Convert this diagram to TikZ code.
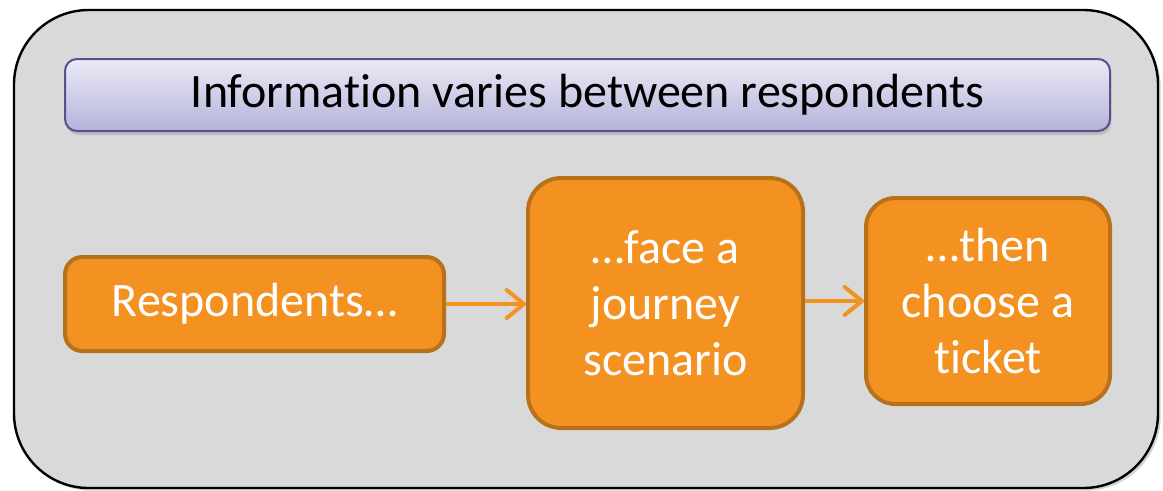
\documentclass[tikz,border=0pt]{standalone}
\usepackage{fontspec}
\setmainfont{Carlito}[Ligatures=NoCommon, RawFeature=-liga]
\usepackage{tikz}
\usetikzlibrary{arrows.meta,shadows,positioning}

\definecolor{panelgray}{HTML}{D9D9D9}
\definecolor{stepfill}{HTML}{F39221}
\definecolor{stepline}{HTML}{B7711A}
\definecolor{bannerline}{HTML}{55518D}
\definecolor{bannertop}{HTML}{EBEAF6}
\definecolor{bannerbottom}{HTML}{B5B3DA}

\tikzset{
  stage/.style={draw=stepline, line width=3pt, fill=stepfill, rounded corners=#1,
    text=white, align=center, inner sep=0pt, font=\fontsize{36}{42}\selectfont},
  flow/.style={draw=stepfill, line width=3pt,
    -{Straight Barb[round, length=13pt, width=21pt]}},
}

\begin{document}
\begin{tikzpicture}[x=0.75pt, y=-0.75pt]
  \useasboundingbox (0,0) rectangle (1163,490);

  % Nodes
  \node (panel) at (586,249) [draw=black, line width=1.8pt, fill=panelgray, rounded corners=56pt,
    minimum width=858pt, minimum height=358.5pt,
    drop shadow={shadow xshift=2pt, shadow yshift=-2pt, opacity=.35}] {};
  \node (banner) at (587.5,95) [draw=bannerline, line width=1.5pt, rounded corners=9pt,
    top color=bannertop, bottom color=bannerbottom, minimum width=783.75pt, minimum height=54pt,
    inner sep=0pt, font=\fontsize{36}{42}\selectfont,
    drop shadow={shadow xshift=1pt, shadow yshift=-3pt, opacity=.3}] {Information varies between respondents};
  \node (resp) at (254.5,304) [stage=13pt, minimum width=284.25pt, minimum height=70.5pt] {Respondents…};
  \node (scen) at (665.5,303) [stage=25pt, minimum width=206.25pt, minimum height=187.5pt] {…face a\\journey\\scenario};
  \node (tick) at (988,301) [stage=22pt, minimum width=183pt, minimum height=154.5pt] {…then\\choose a\\ticket};

  % Edges
  \draw[flow] (resp.east) -- (scen.west |- resp.east);
  \draw[flow] (scen.east |- tick.west) -- (tick.west);
\end{tikzpicture}
\end{document}
